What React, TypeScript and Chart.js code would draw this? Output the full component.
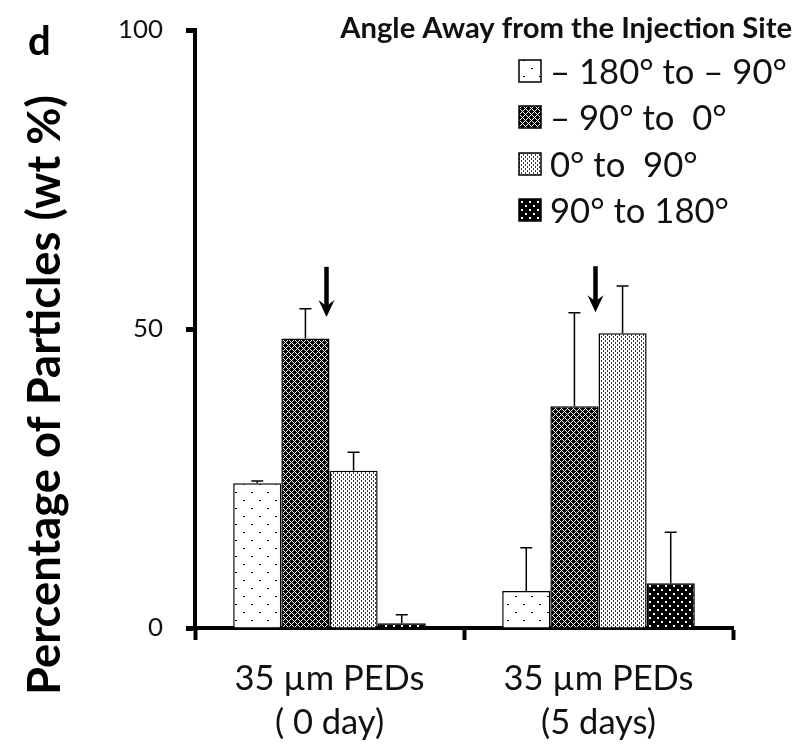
import React, { useEffect, useRef } from "react";
import { Chart, registerables } from "chart.js";

Chart.register(...registerables);

// ---- data ----
const categories = [
  ["35 µm PEDs", "( 0 day)"],
  ["35 µm PEDs", "(5 days)"],
];
const seriesLabels = ["– 180° to – 90°", "– 90° to  0°", "0° to  90°", "90° to 180°"];
const seriesNeg180 = [24.2, 6.2];
const seriesNeg90 = [48.4, 37.1];
const series0 = [26.3, 49.3];
const series90 = [0.8, 7.5];
const errNeg180 = [0.4, 7.2];
const errNeg90 = [5.0, 15.6];
const err0 = [3.1, 7.9];
const err90 = [1.4, 8.5];
const arrowTip = [52.0, 52.8];
const arrowTail = [60.4, 60.5];
const yMin = 0;
const yMax = 100;
const yStep = 50;
const yTitle = "Percentage of Particles (wt %)";
const legendTitle = "Angle Away from the Injection Site";
const panelLetter = "d";

const FONT = "Lato, 'Open Sans', sans-serif";

function fitSize(ctx: CanvasRenderingContext2D, text: string, bold: boolean, target: number) {
  ctx.font = `${bold ? "bold " : ""}100px ${FONT}`;
  const w = ctx.measureText(text).width;
  return (100 * target) / w;
}

function makePattern(kind: number): CanvasPattern {
  const c = document.createElement("canvas");
  const g = c.getContext("2d")!;
  if (kind === 0) {
    c.width = 16;
    c.height = 16;
    g.fillStyle = "#fff";
    g.fillRect(0, 0, 16, 16);
    g.fillStyle = "#000";
    g.fillRect(3, 4, 2, 1);
    g.fillRect(11, 12, 2, 1);
  } else if (kind === 1) {
    c.width = 6;
    c.height = 6;
    g.fillStyle = "#000";
    g.fillRect(0, 0, 6, 6);
    g.fillStyle = "#fff";
    for (let y = 0; y < 6; y++) {
      for (let x = 0; x < 6; x++) {
        if ((x + y) % 6 === 3 || (x - y + 12) % 6 === 3) g.fillRect(x, y, 1, 1);
      }
    }
  } else if (kind === 2) {
    c.width = 4;
    c.height = 4;
    g.fillStyle = "#fff";
    g.fillRect(0, 0, 4, 4);
    g.fillStyle = "#333";
    g.fillRect(1, 0, 1, 2);
    g.fillRect(3, 2, 1, 2);
  } else {
    c.width = 8;
    c.height = 8;
    g.fillStyle = "#000";
    g.fillRect(0, 0, 8, 8);
    g.fillStyle = "#fff";
    g.fillRect(1, 1, 2, 2);
    g.fillRect(5, 5, 2, 2);
  }
  return g.createPattern(c, "repeat")!;
}

export default function App() {
  const ref = useRef<HTMLCanvasElement | null>(null);

  useEffect(() => {
    const canvas = ref.current!;
    const mctx = document.createElement("canvas").getContext("2d")!;
    const xFont = fitSize(mctx, categories[0][0], false, 190);
    const yFont = fitSize(mctx, "100", false, 45);

    const seriesData = [seriesNeg180, seriesNeg90, series0, series90];
    const errData = [errNeg180, errNeg90, err0, err90];
    const patterns = [0, 1, 2, 3].map((k) => makePattern(k));

    const errorBars = {
      id: "errorBars",
      afterDatasetsDraw(chart: any) {
        const ctx = chart.ctx;
        const ys = chart.scales.y;
        ctx.save();
        ctx.strokeStyle = "#000";
        ctx.lineWidth = 1.5;
        seriesData.forEach((_, di) => {
          const meta = chart.getDatasetMeta(di);
          meta.data.forEach((bar: any, i: number) => {
            const top = ys.getPixelForValue(seriesData[di][i] + errData[di][i]);
            ctx.beginPath();
            ctx.moveTo(bar.x, bar.y);
            ctx.lineTo(bar.x, top);
            ctx.moveTo(bar.x - 6, top);
            ctx.lineTo(bar.x + 6, top);
            ctx.stroke();
          });
        });
        ctx.restore();
      },
    };

    const arrows = {
      id: "arrows",
      afterDatasetsDraw(chart: any) {
        const ctx = chart.ctx;
        const xs = chart.scales.x;
        const ys = chart.scales.y;
        ctx.save();
        ctx.fillStyle = "#000";
        ctx.strokeStyle = "#000";
        arrowTip.forEach((tipV, i) => {
          const x = xs.getPixelForValue(i) - 3;
          const tip = ys.getPixelForValue(tipV);
          const tail = ys.getPixelForValue(arrowTail[i]);
          ctx.lineWidth = 4.5;
          ctx.beginPath();
          ctx.moveTo(x, tail);
          ctx.lineTo(x, tip - 10);
          ctx.stroke();
          ctx.beginPath();
          ctx.moveTo(x, tip);
          ctx.lineTo(x - 8, tip - 17);
          ctx.lineTo(x, tip - 11);
          ctx.lineTo(x + 8, tip - 17);
          ctx.closePath();
          ctx.fill();
        });
        ctx.restore();
      },
    };

    const decorations = {
      id: "decorations",
      afterDraw(chart: any) {
        const ctx = chart.ctx;
        ctx.save();
        ctx.fillStyle = "#000";
        // panel letter
        ctx.font = `bold 40px ${FONT}`;
        ctx.textAlign = "left";
        ctx.textBaseline = "alphabetic";
        ctx.fillText(panelLetter, 28, 55);
        // y title
        const ts = fitSize(ctx, yTitle, true, 600);
        ctx.save();
        ctx.translate(60, 395);
        ctx.rotate(-Math.PI / 2);
        ctx.font = `bold ${ts}px ${FONT}`;
        ctx.textAlign = "center";
        ctx.textBaseline = "alphabetic";
        ctx.fillStyle = "#000";
        ctx.fillText(yTitle, 0, 0);
        ctx.restore();
        // legend title
        const ls = fitSize(ctx, legendTitle, true, 452);
        ctx.font = `bold ${ls}px ${FONT}`;
        ctx.textAlign = "right";
        ctx.fillStyle = "#111";
        ctx.fillText(legendTitle, 792, 38);
        // legend items
        const is = fitSize(ctx, seriesLabels[0], false, 237);
        ctx.font = `${is}px ${FONT}`;
        ctx.textAlign = "left";
        const rowCenters = [71, 117, 164, 210];
        seriesLabels.forEach((lab, i) => {
          const cy = rowCenters[i];
          ctx.fillStyle = patterns[i];
          ctx.fillRect(519, cy - 11, 22, 22);
          ctx.strokeStyle = "#000";
          ctx.lineWidth = 1.5;
          ctx.strokeRect(519, cy - 11, 22, 22);
          ctx.fillStyle = "#111";
          ctx.fillText(lab, 550, cy + 13);
        });
        ctx.restore();
      },
    };

    const chart = new Chart(canvas, {
      type: "bar",
      data: {
        labels: categories as any,
        datasets: seriesData.map((d, i) => ({
          label: seriesLabels[i],
          data: d,
          backgroundColor: patterns[i] as any,
          borderColor: "#000",
          borderWidth: 1.5,
        })),
      },
      options: {
        responsive: false,
        animation: false,
        layout: { padding: { top: 30, right: 67, left: 0, bottom: 0 } },
        datasets: { bar: { categoryPercentage: 0.716, barPercentage: 1 } },
        plugins: { legend: { display: false }, tooltip: { enabled: false }, title: { display: false } },
        scales: {
          x: {
            type: "category",
            offset: true,
            grid: {
              display: true,
              drawOnChartArea: false,
              offset: true,
              tickLength: 12,
              tickWidth: 4,
              tickColor: "#000",
            },
            border: { display: true, color: "#000", width: 4 },
            ticks: {
              font: { size: xFont, family: FONT, lineHeight: 44 / xFont },
              color: "#111",
              padding: 17,
              maxRotation: 0,
              autoSkip: false,
            },
            afterFit: (s: any) => {
              s.height = 127;
              s.paddingLeft = 0;
              s.paddingRight = 0;
            },
          },
          y: {
            min: yMin,
            max: yMax,
            ticks: {
              stepSize: yStep,
              font: { size: yFont, family: FONT },
              color: "#111",
              padding: 23,
            },
            grid: {
              display: true,
              drawOnChartArea: false,
              tickLength: 9,
              tickWidth: 5,
              tickColor: "#000",
            },
            border: { display: true, color: "#000", width: 4 },
            afterFit: (s: any) => {
              s.width = 195;
              s.paddingTop = 0;
              s.paddingBottom = 0;
            },
          },
        },
      },
      plugins: [errorBars, arrows, decorations],
    });
    return () => chart.destroy();
  }, []);

  return (
    <div style={{ position: "absolute", left: 0, top: 0, width: 800, height: 755 }}>
      <canvas ref={ref} width={800} height={755} style={{ display: "block" }} />
    </div>
  );
}
